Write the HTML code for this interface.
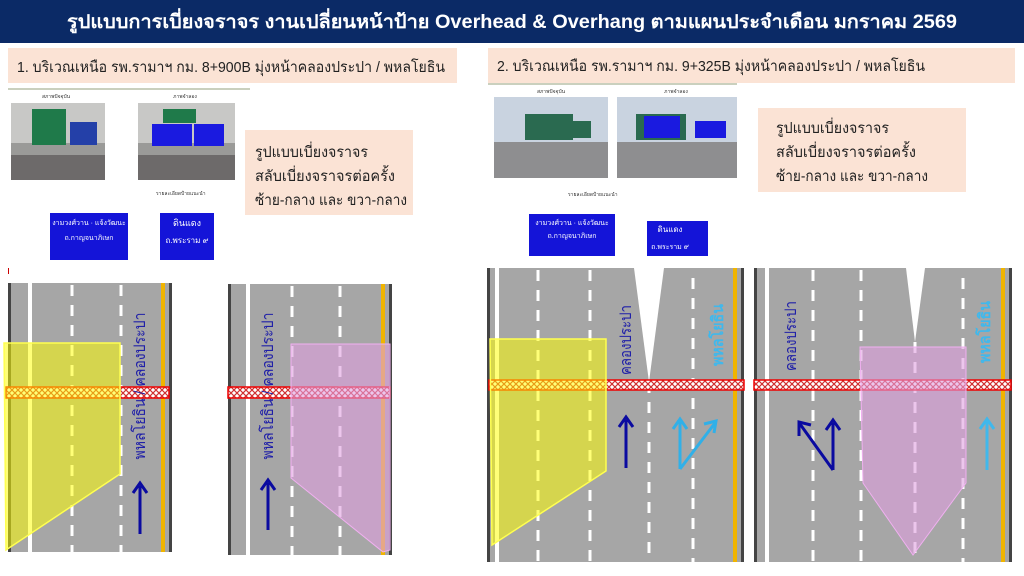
<!DOCTYPE html>
<html><head><meta charset="utf-8"><style>
html,body{margin:0;padding:0;background:#fff;width:1024px;height:576px;overflow:hidden}
svg{display:block;font-family:"Liberation Sans","Noto Sans CJK SC",sans-serif}
</style></head><body>
<svg width="1024" height="576" viewBox="0 0 1024 576" xmlns="http://www.w3.org/2000/svg">
<defs>
<pattern id="hx" width="6" height="6" patternUnits="userSpaceOnUse">
<rect width="6" height="6" fill="#fff"/>
<path d="M0,0L6,6M6,0L0,6" stroke="#d03030" stroke-width="1.2"/>
</pattern>
</defs>
<rect x="0" y="0" width="1024" height="43" fill="#0b2a66"/>
<text x="512" y="28" fill="#fff" font-size="19" font-weight="bold" text-anchor="middle" textLength="890" lengthAdjust="spacingAndGlyphs">รูปแบบการเบี่ยงจราจร งานเปลี่ยนหน้าป้าย Overhead &amp; Overhang ตามแผนประจำเดือน มกราคม 2569</text>

<!-- Left panel header -->
<rect x="8" y="48" width="449" height="35" fill="#fbe3d5"/>
<text x="17" y="72" font-size="15" fill="#222" textLength="428" lengthAdjust="spacingAndGlyphs">1. บริเวณเหนือ รพ.รามาฯ กม. 8+900B มุ่งหน้าคลองประปา / พหลโยธิน</text>
<line x1="8" y1="89" x2="250" y2="89" stroke="#b8c0a8" stroke-width="1.5"/>
<text x="56" y="98" font-size="5" fill="#333" text-anchor="middle">สภาพปัจจุบัน</text>
<text x="185" y="98" font-size="5" fill="#333" text-anchor="middle">ภาพจำลอง</text>
<rect x="11" y="103" width="94" height="77" fill="#9a9a98"/>
<rect x="11" y="103" width="94" height="40" fill="#c8c8c6"/>
<rect x="11" y="155" width="94" height="25" fill="#6d6a6a"/>
<rect x="32" y="109" width="34" height="36" fill="#1f7a4a"/>
<rect x="70" y="122" width="27" height="23" fill="#2440a8"/>
<rect x="138" y="103" width="97" height="77" fill="#9a9a98"/>
<rect x="138" y="103" width="97" height="40" fill="#c8c8c6"/>
<rect x="138" y="155" width="97" height="25" fill="#6d6a6a"/>
<rect x="163" y="109" width="33" height="14" fill="#1f7a4a"/>
<rect x="152" y="124" width="40" height="22" fill="#1a1ae0"/>
<rect x="194" y="124" width="30" height="22" fill="#1a1ae0"/>
<text x="156" y="195" font-size="5" fill="#333">รายละเอียดป้ายแนะนำ</text>
<rect x="50" y="213" width="78" height="47" fill="#1414d8"/>
<text x="89" y="225" font-size="7" fill="#fff" text-anchor="middle">งามวงศ์วาน · แจ้งวัฒนะ</text>
<text x="89" y="240" font-size="7" fill="#fff" text-anchor="middle">ถ.กาญจนาภิเษก</text>
<rect x="160" y="213" width="54" height="47" fill="#1414d8"/>
<text x="187" y="226" font-size="9" fill="#fff" text-anchor="middle">ดินแดง</text>
<text x="187" y="243" font-size="8" fill="#fff" text-anchor="middle">ถ.พระราม ๙</text>
<rect x="245" y="130" width="168" height="85" fill="#fbe3d5"/>
<text x="255" y="157" font-size="15" fill="#222" textLength="113" lengthAdjust="spacingAndGlyphs">รูปแบบเบี่ยงจราจร</text>
<text x="255" y="181" font-size="15" fill="#222" textLength="140" lengthAdjust="spacingAndGlyphs">สลับเบี่ยงจราจรต่อครั้ง</text>
<text x="255" y="205" font-size="15" fill="#222" textLength="152" lengthAdjust="spacingAndGlyphs">ซ้าย-กลาง และ ขวา-กลาง</text>
<rect x="8" y="268" width="1" height="6" fill="#c00"/>

<!-- Left road 1 -->
<rect x="8" y="283" width="164" height="269" fill="#a6a6a6"/>
<rect x="8" y="283" width="3" height="269" fill="#444"/>
<rect x="169" y="283" width="3" height="269" fill="#444"/>
<rect x="28" y="283" width="4" height="269" fill="#fff"/>
<line x1="72" y1="285" x2="72" y2="552" stroke="#fff" stroke-width="3" stroke-dasharray="11,9"/>
<line x1="121" y1="285" x2="121" y2="552" stroke="#fff" stroke-width="3" stroke-dasharray="11,9"/>
<rect x="161" y="283" width="4" height="269" fill="#f0b400"/>
<rect x="6" y="387" width="163" height="11" fill="url(#hx)" stroke="#e00" stroke-width="1.5"/>
<polygon points="4,343 120,343 120,474 6,550" fill="#ffff00" fill-opacity="0.53" stroke="#ffff50" stroke-width="1.5"/>
<text transform="translate(141,386) rotate(-90)" font-size="16" fill="#2020a8" text-anchor="middle" dominant-baseline="middle" textLength="147" lengthAdjust="spacingAndGlyphs">พหลโยธิน / คลองประปา</text>
<line x1="140" y1="534" x2="140" y2="486" stroke="#0a0aa0" stroke-width="3"/>
<path d="M133,493L140,483L147,493" fill="none" stroke="#0a0aa0" stroke-width="3"/>

<!-- Left road 2 -->
<rect x="228" y="284" width="164" height="271" fill="#a6a6a6"/>
<rect x="228" y="284" width="3" height="271" fill="#444"/>
<rect x="389" y="284" width="3" height="271" fill="#444"/>
<rect x="246" y="284" width="4" height="271" fill="#fff"/>
<line x1="292" y1="286" x2="292" y2="555" stroke="#fff" stroke-width="3" stroke-dasharray="11,9"/>
<line x1="340" y1="286" x2="340" y2="555" stroke="#fff" stroke-width="3" stroke-dasharray="11,9"/>
<rect x="381" y="284" width="4" height="271" fill="#f0b400"/>
<rect x="228" y="387" width="162" height="11" fill="url(#hx)" stroke="#e00" stroke-width="1.5"/>
<polygon points="291,344 390,344 390,550 383,552 291,478" fill="#e0a0e0" fill-opacity="0.6" stroke="#f0b0f0" stroke-width="1"/>
<text transform="translate(269,386) rotate(-90)" font-size="16" fill="#2020a8" text-anchor="middle" dominant-baseline="middle" textLength="147" lengthAdjust="spacingAndGlyphs">พหลโยธิน / คลองประปา</text>
<line x1="268" y1="530" x2="268" y2="483" stroke="#0a0aa0" stroke-width="3"/>
<path d="M261,490L268,480L275,490" fill="none" stroke="#0a0aa0" stroke-width="3"/>

<!-- Right panel header -->
<rect x="488" y="48" width="527" height="35" fill="#fbe3d5"/>
<text x="497" y="71" font-size="15" fill="#222" textLength="428" lengthAdjust="spacingAndGlyphs">2. บริเวณเหนือ รพ.รามาฯ กม. 9+325B มุ่งหน้าคลองประปา / พหลโยธิน</text>
<line x1="488" y1="84" x2="737" y2="84" stroke="#b8c0a8" stroke-width="1.5"/>
<text x="551" y="93" font-size="5" fill="#333" text-anchor="middle">สภาพปัจจุบัน</text>
<text x="676" y="93" font-size="5" fill="#333" text-anchor="middle">ภาพจำลอง</text>
<rect x="494" y="97" width="114" height="81" fill="#8e8e90"/>
<rect x="494" y="97" width="114" height="45" fill="#c9d3e0"/>
<rect x="525" y="114" width="48" height="26" fill="#2a6a50"/>
<rect x="563" y="121" width="28" height="17" fill="#2a6a50"/>
<rect x="617" y="97" width="120" height="81" fill="#8e8e90"/>
<rect x="617" y="97" width="120" height="45" fill="#c9d3e0"/>
<rect x="636" y="114" width="50" height="26" fill="#2a6a50"/>
<rect x="644" y="116" width="36" height="22" fill="#1a1ae0"/>
<rect x="695" y="121" width="31" height="17" fill="#1a1ae0"/>
<text x="568" y="196" font-size="5" fill="#333">รายละเอียดป้ายแนะนำ</text>
<rect x="529" y="214" width="86" height="42" fill="#1414d8"/>
<text x="572" y="225" font-size="7" fill="#fff" text-anchor="middle">งามวงศ์วาน · แจ้งวัฒนะ</text>
<text x="572" y="238" font-size="7" fill="#fff" text-anchor="middle">ถ.กาญจนาภิเษก</text>
<rect x="647" y="221" width="61" height="35" fill="#1414d8"/>
<text x="670" y="232" font-size="8" fill="#fff" text-anchor="middle">ดินแดง</text>
<text x="670" y="249" font-size="7" fill="#fff" text-anchor="middle">ถ.พระราม ๙</text>
<rect x="758" y="108" width="208" height="84" fill="#fbe3d5"/>
<text x="776" y="133" font-size="15" fill="#222" textLength="113" lengthAdjust="spacingAndGlyphs">รูปแบบเบี่ยงจราจร</text>
<text x="776" y="157" font-size="15" fill="#222" textLength="140" lengthAdjust="spacingAndGlyphs">สลับเบี่ยงจราจรต่อครั้ง</text>
<text x="776" y="181" font-size="15" fill="#222" textLength="152" lengthAdjust="spacingAndGlyphs">ซ้าย-กลาง และ ขวา-กลาง</text>

<!-- Right road 1 -->
<rect x="487" y="268" width="257" height="294" fill="#a6a6a6"/>
<rect x="487" y="268" width="3" height="294" fill="#444"/>
<rect x="741" y="268" width="3" height="294" fill="#444"/>
<rect x="495" y="268" width="4" height="294" fill="#fff"/>
<line x1="538" y1="270" x2="538" y2="562" stroke="#fff" stroke-width="3" stroke-dasharray="11,9"/>
<line x1="590" y1="270" x2="590" y2="562" stroke="#fff" stroke-width="3" stroke-dasharray="11,9"/>
<line x1="693" y1="278" x2="693" y2="562" stroke="#fff" stroke-width="3" stroke-dasharray="11,9"/>
<line x1="649" y1="382" x2="649" y2="562" stroke="#fff" stroke-width="3" stroke-dasharray="11,9"/>
<polygon points="634,268 664,268 649,382" fill="#fff"/>
<rect x="733" y="268" width="4" height="294" fill="#f0b400"/>
<rect x="489" y="380" width="255" height="10" fill="url(#hx)" stroke="#e00" stroke-width="1.5"/>
<polygon points="490,339 606,339 606,471 492,545" fill="#ffff00" fill-opacity="0.53" stroke="#ffff50" stroke-width="1.5"/>
<text transform="translate(627,340) rotate(-90)" font-size="16" fill="#2020a8" text-anchor="middle" dominant-baseline="middle" textLength="70" lengthAdjust="spacingAndGlyphs">คลองประปา</text>
<text transform="translate(719,335) rotate(-90)" font-size="16" font-weight="bold" fill="#40b8ec" text-anchor="middle" dominant-baseline="middle" textLength="62" lengthAdjust="spacingAndGlyphs">พหลโยธิน</text>
<line x1="626" y1="468" x2="626" y2="420" stroke="#0a0aa0" stroke-width="3"/>
<path d="M619,427L626,417L633,427" fill="none" stroke="#0a0aa0" stroke-width="3"/>
<path d="M680,469L680,422M680,469L715,423" fill="none" stroke="#30b0e8" stroke-width="3"/>
<path d="M673,429L680,419L687,429M704,424L716,421L714,433" fill="none" stroke="#30b0e8" stroke-width="3"/>

<!-- Right road 2 -->
<rect x="754" y="268" width="258" height="294" fill="#a6a6a6"/>
<rect x="754" y="268" width="3" height="294" fill="#444"/>
<rect x="1009" y="268" width="3" height="294" fill="#444"/>
<rect x="765" y="268" width="4" height="294" fill="#fff"/>
<line x1="813" y1="270" x2="813" y2="562" stroke="#fff" stroke-width="3" stroke-dasharray="11,9"/>
<line x1="861" y1="270" x2="861" y2="562" stroke="#fff" stroke-width="3" stroke-dasharray="11,9"/>
<line x1="963" y1="278" x2="963" y2="562" stroke="#fff" stroke-width="3" stroke-dasharray="11,9"/>
<line x1="915" y1="342" x2="915" y2="562" stroke="#fff" stroke-width="3" stroke-dasharray="11,9"/>
<polygon points="906,268 925,268 915,342" fill="#fff"/>
<rect x="1001" y="268" width="4" height="294" fill="#f0b400"/>
<rect x="754" y="380" width="257" height="10" fill="url(#hx)" stroke="#e00" stroke-width="1.5"/>
<polygon points="860,347 966,347 966,483 913,555 863,483" fill="#e0a0e0" fill-opacity="0.6" stroke="#f0b0f0" stroke-width="1"/>
<text transform="translate(792,336) rotate(-90)" font-size="16" fill="#2020a8" text-anchor="middle" dominant-baseline="middle" textLength="70" lengthAdjust="spacingAndGlyphs">คลองประปา</text>
<text transform="translate(986,332) rotate(-90)" font-size="16" font-weight="bold" fill="#40b8ec" text-anchor="middle" dominant-baseline="middle" textLength="62" lengthAdjust="spacingAndGlyphs">พหลโยธิน</text>
<path d="M833,470L833,423M833,470L800,424" fill="none" stroke="#0a0aa0" stroke-width="3"/>
<path d="M826,430L833,420L840,430M799,436L799,422L811,425" fill="none" stroke="#0a0aa0" stroke-width="3"/>
<line x1="987" y1="470" x2="987" y2="422" stroke="#40b8ec" stroke-width="3"/>
<path d="M980,429L987,419L994,429" fill="none" stroke="#40b8ec" stroke-width="3"/>
</svg>
</body></html>
